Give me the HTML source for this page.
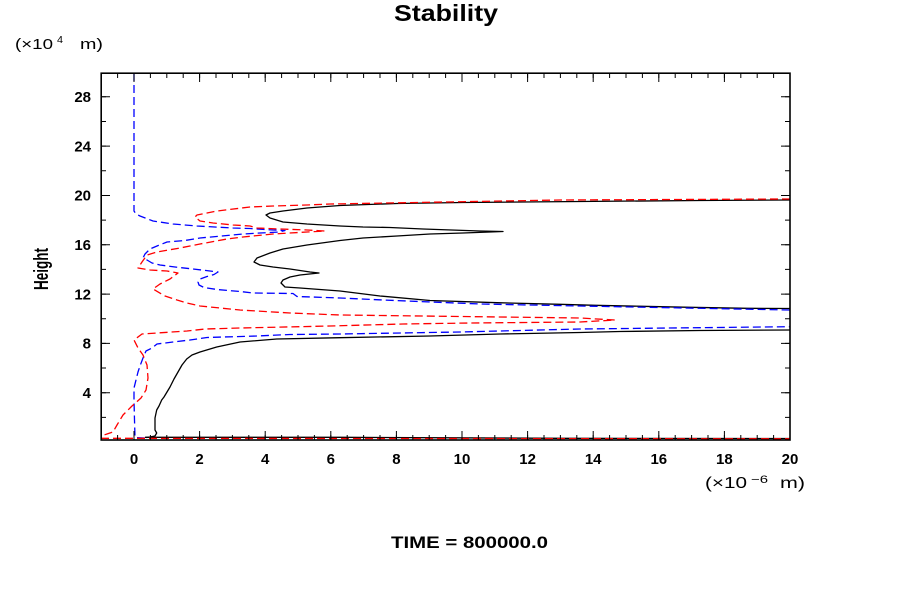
<!DOCTYPE html>
<html><head><meta charset="utf-8"><style>
html,body{margin:0;padding:0;background:#fff;}
svg{display:block;}
text{font-family:"Liberation Sans",Arial,sans-serif;fill:#000;}
.b{font-weight:bold;}
</style></head><body>
<svg width="900" height="600" viewBox="0 0 900 600" xmlns="http://www.w3.org/2000/svg">
<rect x="0" y="0" width="900" height="600" fill="#fff"/>

<!-- Title -->
<text class="b" x="394" y="21" font-size="23" textLength="104" lengthAdjust="spacingAndGlyphs">Stability</text>

<!-- y unit -->
<text x="15" y="49" font-size="15" textLength="38" lengthAdjust="spacingAndGlyphs">(×10</text>
<text x="57" y="43" font-size="10" textLength="6" lengthAdjust="spacingAndGlyphs">4</text>
<text x="80" y="49" font-size="15" textLength="23" lengthAdjust="spacingAndGlyphs">m)</text>

<!-- x unit -->
<text x="705" y="488" font-size="16" textLength="42" lengthAdjust="spacingAndGlyphs">(×10</text>
<text x="751" y="483" font-size="11" textLength="17" lengthAdjust="spacingAndGlyphs">−6</text>
<text x="780" y="488" font-size="16" textLength="25" lengthAdjust="spacingAndGlyphs">m)</text>

<!-- Height -->
<text class="b" transform="translate(48,290) rotate(-90)" font-size="20" textLength="42" lengthAdjust="spacingAndGlyphs">Height</text>

<!-- TIME -->
<text class="b" x="391" y="548" font-size="17" textLength="157" lengthAdjust="spacingAndGlyphs">TIME = 800000.0</text>

<!-- y tick labels -->
<g class="b" font-size="15" text-anchor="end" font-weight="bold">
<text x="91" y="398">4</text>
<text x="91" y="348.7">8</text>
<text x="91" y="299.3">12</text>
<text x="91" y="250">16</text>
<text x="91" y="200.7">20</text>
<text x="91" y="151.3">24</text>
<text x="91" y="102">28</text>
</g>
<!-- x tick labels -->
<g font-size="15" text-anchor="middle" font-weight="bold">
<text x="134" y="464">0</text>
<text x="199.6" y="464">2</text>
<text x="265.2" y="464">4</text>
<text x="330.8" y="464">6</text>
<text x="396.4" y="464">8</text>
<text x="462" y="464">10</text>
<text x="527.6" y="464">12</text>
<text x="593.2" y="464">14</text>
<text x="658.8" y="464">16</text>
<text x="724.4" y="464">18</text>
<text x="790" y="464">20</text>
</g>

<!-- curves -->
<g fill="none" stroke-linejoin="round">
<!-- black solid lower -->
<polyline stroke="#000" stroke-width="1.3" points="146,437.5 150,437 155,436 156.7,433 155,430 155,418 156.7,410 159,406 161.7,400 164,397 170,387 174,379 178,372 182,365 186.7,359 192,355 200,352 216.7,347 240,342 276.7,339 340,337.7 430,336 500,334 580,332.5 620,331.5 700,330.5 790,330"/>
<!-- black bottom line -->
<polyline stroke="#000" stroke-width="1.3" points="145,437.3 340,437.3 560,438.3 790,438.5"/>
<!-- black bulge -->
<polyline stroke="#000" stroke-width="1.3" points="790,200 700,200.5 580,201.5 463,202.5 397,203.5 340,205.5 307,208 283,211 270,213 266,215 270,218 283,222 307,224 340,226 363,227 390,227.5 423,229 480,231 503,231.5 490,232 463,233 430,234 397,236 363,238 340,240.5 307,245 283,249 270,253 257,258 254,262 260,265 273,267 290,269 310,272 319,273 300,275 290,277 283,280 281,283 285,287 300,288 340,291 380,296 430,300.5 497,302.7 560,304.3 595,305.3 642,306.3 690,307.3 747,308.3 790,308.5"/>

<g stroke-dasharray="8 4" stroke-width="1.3">
<!-- blue A -->
<polyline stroke="#0000ff" points="134,73 134,211 136,214 140,216 153,221 173,224 197,226 233,228 250,228.5 273,230 285,230.5 280,232 260,233 243,234 227,235.5 200,238 185,240.5 167,242 157,246 150,249 145,254 143.5,257 147,260 152,263 160,265 175,267 193,269 210,271 218,272 214,274.5 207,276.5 200,279 198,282 199,285 204,287.5 217,289.5 240,291.5 253,293 293,293.5 297,296.5 340,298 383,300 480,304 580,306 790,310"/>
<!-- blue B -->
<polyline stroke="#0000ff" points="145,438 135,437.5 134.5,420 134,400 134,388 136,380 138,372 140,366 143,358 146,351 152,348 157,344 173,342 190,340 207,337.5 257,336 290,334.5 340,334 460,332 580,329 790,326.7"/>
<!-- red A -->
<polyline stroke="#ff0000" points="790,199 560,200 330,204 307,205 273,206 250,207 217,211 207,213 197,215 195,217 200,221 213,223 233,225 250,226 257,228 280,229 307,230 325,231 307,232 273,234 243,237 227,239 200,244 180,248 157,252 147,255 142,262 138,268 150,270 167,271 178,273 170,279 160,284 153,289 165,296 177,300 187,303 200,306 220,308 240,310 290,313 340,315 580,318 615,320 580,322 470,323 403,324 330,326 240,328 205,329 187,331 157,333 142,334 134,340 138,348 143,355 147,365 148,378 146,390 141,398 132,406 123,415 117,425 113,432 107,434 101,436"/>
<!-- red bottom -->
<polyline stroke="#ff0000" points="101,438.3 790,438.8"/>
</g>
</g>

<!-- ticks -->
<g stroke="#000" fill="none">
<line x1="117.1" y1="437.5" x2="790" y2="437.5" stroke-width="5" stroke-dasharray="1 15.4"/>
<line x1="133.5" y1="435.5" x2="791" y2="435.5" stroke-width="9" stroke-dasharray="1 64.6"/>
<line x1="117.1" y1="75.5" x2="790" y2="75.5" stroke-width="5" stroke-dasharray="1 15.4"/>
<line x1="133.5" y1="77.5" x2="791" y2="77.5" stroke-width="9" stroke-dasharray="1 64.6"/>
<line x1="103.5" y1="96.3" x2="103.5" y2="440" stroke-width="5" stroke-dasharray="1 23.66"/>
<line x1="105.5" y1="96.3" x2="105.5" y2="440" stroke-width="9" stroke-dasharray="1 48.32"/>
<line x1="787.5" y1="96.3" x2="787.5" y2="440" stroke-width="5" stroke-dasharray="1 23.66"/>
<line x1="785.5" y1="96.3" x2="785.5" y2="440" stroke-width="9" stroke-dasharray="1 48.32"/>
</g>

<!-- frame -->
<rect x="101.2" y="73.2" width="688.8" height="366.8" fill="none" stroke="#000" stroke-width="1.6"/>
</svg>
</body></html>
